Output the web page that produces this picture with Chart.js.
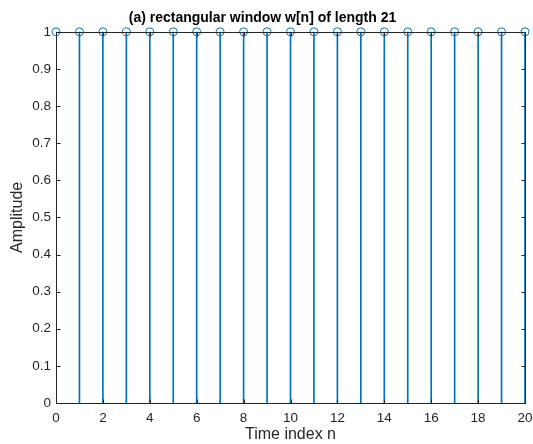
<!DOCTYPE html>
<html>
<head>
<meta charset="utf-8">
<script src="https://cdn.jsdelivr.net/npm/chart.js@4"></script>
<style>
html,body{margin:0;padding:0;background:#fff;}
#wrap{width:533px;height:444px;}
</style>
</head>
<body>
<div id="wrap"><canvas id="c" width="533" height="444"></canvas></div>
<script>
const nValues = [0,1,2,3,4,5,6,7,8,9,10,11,12,13,14,15,16,17,18,19,20];
const wValues = [1,1,1,1,1,1,1,1,1,1,1,1,1,1,1,1,1,1,1,1,1];
const xTicks = [0,2,4,6,8,10,12,14,16,18,20];
const yTicks = [0,0.1,0.2,0.3,0.4,0.5,0.6,0.7,0.8,0.9,1];
const titleText = '(a) rectangular window w[n] of length 21';
const xLabel = 'Time index n';
const yLabel = 'Amplitude';

const points = nValues.map((n,i)=>({x:n,y:wValues[i]}));
const stemColor = '#0072BD';
const axisColor = '#262626';
const fam = 'Liberation Sans, Arial, sans-serif';

const boxPlugin = {
  id:'box',
  afterDatasetsDraw(chart){
    const {ctx, chartArea:a, scales:{x,y}} = chart;
    ctx.save();
    ctx.strokeStyle = axisColor;
    ctx.lineWidth = 1;
    ctx.beginPath();
    const L=Math.round(a.left)+0.5, R=Math.round(a.right)+0.5, T=Math.round(a.top)+0.5, B=Math.round(a.bottom)+0.5;
    ctx.rect(L,T,R-L,B-T);
    const tl=4;
    xTicks.forEach(v=>{
      const px=Math.round(x.getPixelForValue(v))+0.5;
      ctx.moveTo(px,B); ctx.lineTo(px,B-tl);
      ctx.moveTo(px,T); ctx.lineTo(px,T+tl);
    });
    yTicks.forEach(v=>{
      const py=Math.round(y.getPixelForValue(v))+0.5;
      ctx.moveTo(L,py); ctx.lineTo(L+tl,py);
      ctx.moveTo(R,py); ctx.lineTo(R-tl,py);
    });
    ctx.stroke();
    ctx.restore();
  }
};

new Chart(document.getElementById('c'), {
  type:'bar',
  data:{
    datasets:[
      {
        type:'line',
        data:points,
        showLine:false,
        pointStyle:'circle',
        pointRadius:4,
        pointHoverRadius:4,
        pointBorderWidth:1,
        pointBorderColor:stemColor,
        pointBackgroundColor:'rgba(255,255,255,0)',
        clip:false,
        order:0
      },
      {
        type:'bar',
        data:points,
        backgroundColor:stemColor,
        barThickness:1,
        order:1
      }
    ]
  },
  options:{
    responsive:false,
    animation:false,
    layout:{padding:{left:0,right:8,top:0,bottom:0}},
    plugins:{
      legend:{display:false},
      tooltip:{enabled:false},
      title:{
        display:true,
        text:titleText,
        color:'#000',
        font:{family:fam,size:14,weight:'bold'},
        padding:{top:10,bottom:5}
      }
    },
    scales:{
      x:{
        type:'linear',
        min:0,max:20,
        offset:false,
        grid:{display:false,tickLength:0},
        border:{display:false},
        afterBuildTicks(s){ s.ticks = xTicks.map(v=>({value:v})); },
        ticks:{color:axisColor,font:{family:fam,size:13.5},padding:7,maxRotation:0},
        title:{display:true,text:xLabel,color:axisColor,font:{family:fam,size:16},padding:{top:0,bottom:0}},
        afterFit(s){ s.height = 41; s.paddingRight = 0; s.paddingLeft = 0; }
      },
      y:{
        min:0,max:1,
        grid:{display:false,tickLength:0},
        border:{display:false},
        afterBuildTicks(s){ s.ticks = yTicks.map(v=>({value:v})); },
        ticks:{color:axisColor,font:{family:fam,size:13.5},padding:5,callback:v=>String(Math.round(v*10)/10)},
        title:{display:true,text:yLabel,color:axisColor,font:{family:fam,size:16},padding:{top:8,bottom:0}},
        afterFit(s){ s.width = 56; s.paddingTop = 0; s.paddingBottom = 0; }
      }
    }
  },
  plugins:[boxPlugin]
});
</script>
</body>
</html>
